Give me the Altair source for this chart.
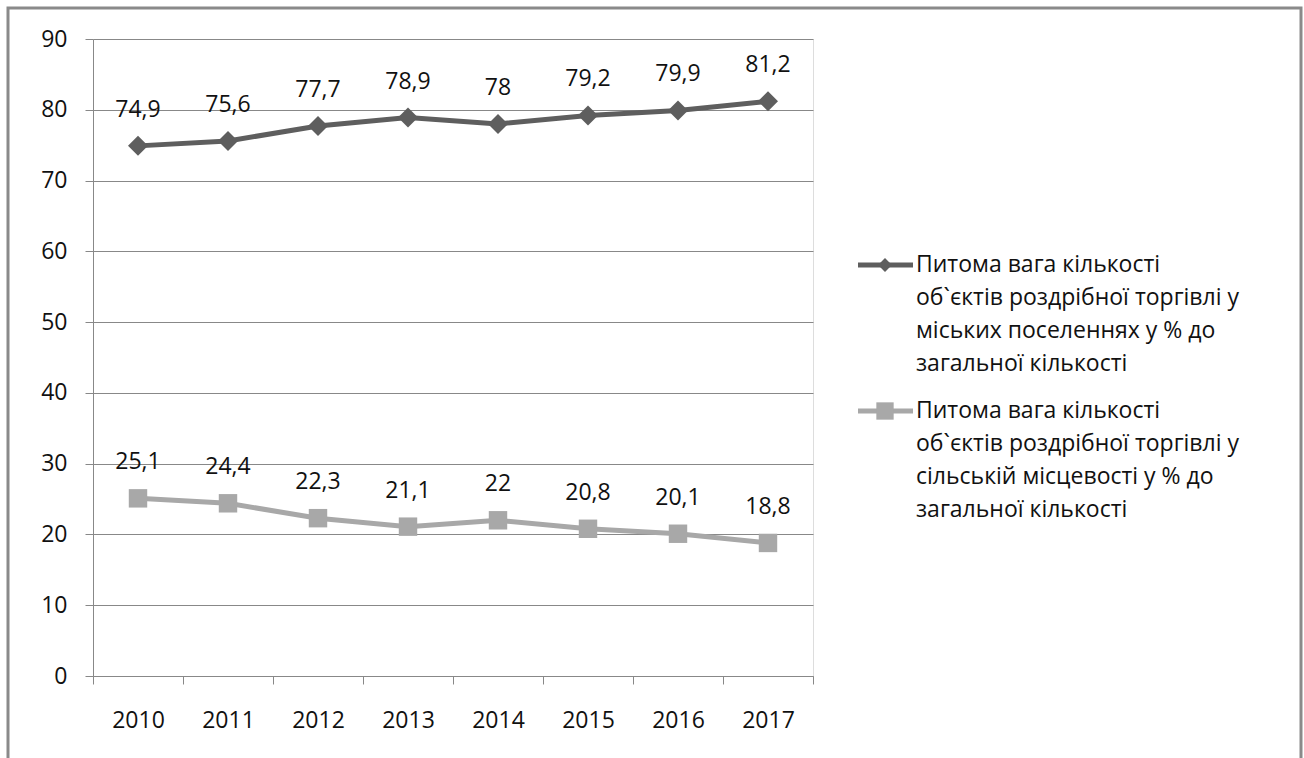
import altair as alt
import pandas as pd

years = ["2010", "2011", "2012", "2013", "2014", "2015", "2016", "2017"]
urban = [74.9, 75.6, 77.7, 78.9, 78.0, 79.2, 79.9, 81.2]
rural = [25.1, 24.4, 22.3, 21.1, 22.0, 20.8, 20.1, 18.8]
y_ticks = [0, 10, 20, 30, 40, 50, 60, 70, 80, 90]
urban_label = ["Питома вага кількості", "об`єктів роздрібної торгівлі  у",
               "міських поселеннях у % до", "загальної кількості"]
rural_label = ["Питома вага кількості", "об`єктів роздрібної торгівлі у",
               "сільській місцевості у % до", "загальної кількості"]

FONT = "Open Sans"
NUM_FS = 23
LEG_FS = 23
C_URBAN = "#5e5e5e"
C_RURAL = "#a8a8a8"
GRID = "#888888"
TXT = "#111111"

df_u = pd.DataFrame({"year": years, "v": urban})
df_r = pd.DataFrame({"year": years, "v": rural})

W, H = 720, 637

x = alt.X("year:O", sort=years,
          scale=alt.Scale(type="band", paddingInner=0, paddingOuter=0),
          axis=alt.Axis(title=None, labelAngle=0, tickBand="extent", grid=False,
                        domainColor=GRID, tickColor=GRID, tickSize=8,
                        labelFont=FONT, labelFontSize=NUM_FS, labelColor=TXT,
                        labelPadding=25))
y = alt.Y("v:Q", scale=alt.Scale(domain=[0, 90], nice=False),
          axis=alt.Axis(title=None, values=y_ticks, grid=True, gridColor=GRID,
                        domainColor=GRID, tickColor=GRID, tickSize=8,
                        labelFont=FONT, labelFontSize=NUM_FS, labelColor=TXT,
                        labelPadding=18))

def series(df, color, shape, size):
    base = alt.Chart(df).encode(x=x, y=y)
    line = base.mark_line(color=color, strokeWidth=5)
    pts = base.mark_point(shape=shape, filled=True, color=color, size=size, opacity=1)
    txt = base.transform_calculate(
        lab="replace(toString(datum.v), '.', ',')"
    ).mark_text(dy=-36, font=FONT, fontSize=NUM_FS, color=TXT).encode(text="lab:N")
    return line + pts + txt

frame = alt.Chart(pd.DataFrame({"a": [0]})).mark_rect(
    fill=None, stroke="#8a8a8a", strokeWidth=3
).encode(x=alt.value(-85), x2=alt.value(1208), y=alt.value(-31), y2=alt.value(800))

def legend_entry(color, shape, size, lines, ytop):
    d = pd.DataFrame({"t": ["\n".join(lines)]})
    rule = alt.Chart(d).mark_rule(color=color, strokeWidth=5).encode(
        x=alt.value(765), x2=alt.value(820), y=alt.value(ytop))
    pt = alt.Chart(d).mark_point(shape=shape, filled=True, color=color, size=size,
                                  opacity=1).encode(x=alt.value(792), y=alt.value(ytop))
    tx = alt.Chart(d).mark_text(align="left", baseline="middle", font=FONT, fontSize=LEG_FS,
                                 color=TXT, lineBreak="\n", lineHeight=33).encode(
        x=alt.value(823), y=alt.value(ytop), text="t:N")
    return rule + pt + tx

chart = alt.layer(
    frame,
    series(df_r, C_RURAL, "square", 340),
    series(df_u, C_URBAN, "diamond", 400),
    legend_entry(C_URBAN, "diamond", 190, urban_label, 226),
    legend_entry(C_RURAL, "square", 300, rural_label, 372),
).properties(
    width=W, height=H,
    autosize=alt.AutoSizeParams(type="none"),
    padding={"left": 93, "top": 39, "right": 1304 - 93 - W, "bottom": 758 - 39 - H},
).configure_view(stroke=None).configure(background="white")

chart.save("out.html", embed_options={"renderer": "svg", "actions": False})
